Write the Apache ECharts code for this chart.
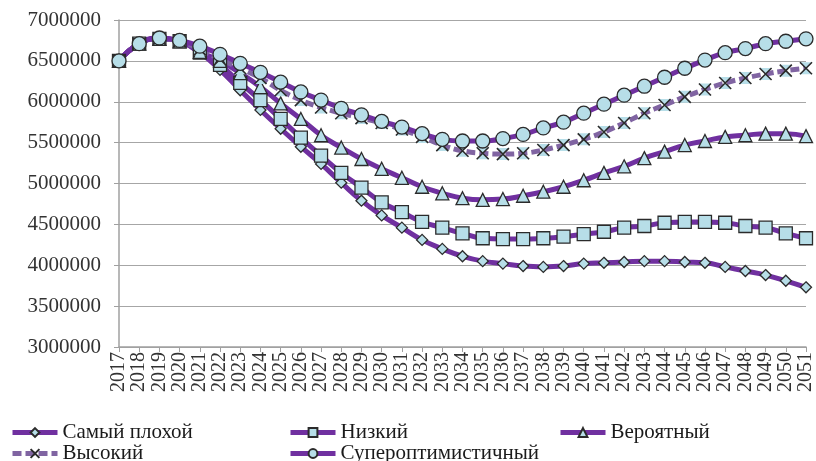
<!DOCTYPE html>
<html>
<head>
<meta charset="utf-8">
<script src="https://cdn.jsdelivr.net/npm/echarts@6/dist/echarts.min.js"></script>
<style>
  html, body { margin: 0; padding: 0; background: #fff; }
  #chart { width: 816px; height: 461px; }
</style>
</head>
<body>
<div id="chart"></div>
<script>
const years = [];
for (let y = 2017; y <= 2051; y++) years.push(String(y));

const worst = [6500000, 6710000, 6770000, 6740000, 6600000, 6390000, 6140000, 5900000, 5670000, 5450000,
  5240000, 5010000, 4790000, 4610000, 4460000, 4310000, 4200000, 4110000, 4050000, 4020000,
  3990000, 3980000, 3990000, 4020000, 4030000, 4040000, 4050000, 4050000, 4040000, 4030000,
  3980000, 3930000, 3880000, 3810000, 3730000];
const low = [6500000, 6710000, 6770000, 6740000, 6600000, 6450000, 6230000, 6020000, 5790000, 5560000,
  5340000, 5130000, 4950000, 4770000, 4650000, 4530000, 4460000, 4390000, 4330000, 4320000,
  4320000, 4330000, 4350000, 4380000, 4410000, 4460000, 4480000, 4520000, 4530000, 4530000,
  4520000, 4480000, 4460000, 4390000, 4330000];
const probable = [6500000, 6710000, 6770000, 6740000, 6610000, 6500000, 6350000, 6180000, 5980000, 5790000,
  5590000, 5440000, 5300000, 5180000, 5070000, 4960000, 4880000, 4820000, 4800000, 4810000,
  4850000, 4900000, 4960000, 5040000, 5130000, 5210000, 5310000, 5390000, 5470000, 5520000,
  5570000, 5590000, 5610000, 5610000, 5580000];
const high = [6500000, 6710000, 6770000, 6740000, 6640000, 6520000, 6410000, 6290000, 6140000, 6020000,
  5930000, 5860000, 5800000, 5740000, 5660000, 5570000, 5470000, 5400000, 5370000, 5360000,
  5370000, 5410000, 5470000, 5540000, 5630000, 5740000, 5860000, 5960000, 6060000, 6150000,
  6230000, 6290000, 6340000, 6380000, 6410000];
const superOpt = [6500000, 6710000, 6780000, 6750000, 6680000, 6580000, 6470000, 6360000, 6240000, 6120000,
  6020000, 5920000, 5840000, 5760000, 5690000, 5610000, 5540000, 5520000, 5520000, 5550000,
  5600000, 5680000, 5750000, 5860000, 5970000, 6080000, 6190000, 6300000, 6410000, 6510000,
  6600000, 6650000, 6710000, 6740000, 6770000];

const names = ['Самый плохой', 'Низкий', 'Вероятный', 'Высокий', 'Супероптимистичный'];

const PURPLE = '#7030A0';
const LIGHT_PURPLE = '#8064A2';
const MARK_FILL = '#B7DEE8';
const MARK_EDGE = '#2b2b2b';
const FONT = 'Liberation Serif';

const crossPath = 'path://M0,0L12,12M12,0L0,12';
const hourglassPath = 'path://M0,0L12,0L6,6L12,12L0,12L6,6Z';

function lineSeries(name, data, symbol, size, color, dashed) {
  return {
    name,
    type: 'line',
    data,
    smooth: true,
    symbol,
    symbolSize: size,
    lineStyle: { color, width: 5, type: dashed ? [9, 4] : 'solid' },
    itemStyle: { color: MARK_FILL, borderColor: MARK_EDGE, borderWidth: 1.3 },
    emphasis: { disabled: true },
  };
}

function legendAt(name, left, top) {
  return {
    data: [name],
    left,
    top,
    itemWidth: 45,
    itemHeight: 11,
    lineStyle: { width: 5 },
    textStyle: { fontFamily: FONT, fontSize: 21, color: '#1a1a1a' },
  };
}

const chart = echarts.init(document.getElementById('chart'), null, { renderer: 'canvas' });
chart.setOption({
  animation: false,
  backgroundColor: '#fff',
  grid: { left: 119, right: 10, top: 20, bottom: 114 },
  legend: [
    legendAt(names[0], 5, 417),
    legendAt(names[1], 283, 417),
    legendAt(names[2], 553, 417),
    legendAt(names[3], 5, 438),
    legendAt(names[4], 283, 438),
  ],
  xAxis: {
    type: 'category',
    data: years,
    boundaryGap: false,
    axisLine: { lineStyle: { color: '#A0A0A0', width: 1.5 } },
    axisTick: { show: true, length: 5, interval: 0, lineStyle: { color: '#A0A0A0' } },
    axisLabel: { rotate: 90, interval: 0, margin: 5, fontFamily: FONT, fontSize: 20, color: '#333' },
    splitLine: { show: false },
  },
  yAxis: {
    type: 'value',
    min: 3000000,
    max: 7000000,
    interval: 500000,
    axisLine: { show: true, lineStyle: { color: '#A0A0A0', width: 1.5 } },
    axisTick: { show: true, length: 5, lineStyle: { color: '#A0A0A0' } },
    axisLabel: { margin: 18, fontFamily: FONT, fontSize: 21, color: '#333', formatter: (v) => String(v) },
    splitLine: { lineStyle: { color: '#A6A6A6', width: 1.2 } },
  },
  series: [
    lineSeries(names[0], worst, 'diamond', 11, PURPLE, false),
    lineSeries(names[1], low, 'rect', 13, PURPLE, false),
    lineSeries(names[2], probable, 'triangle', 13, PURPLE, false),
    {
      name: 'high-fill',
      type: 'line',
      data: high,
      smooth: true,
      symbol: hourglassPath,
      symbolSize: 12,
      lineStyle: { width: 0, opacity: 0 },
      itemStyle: { color: MARK_FILL, borderWidth: 0 },
      emphasis: { disabled: true },
    },
    Object.assign(lineSeries(names[3], high, crossPath, 12, LIGHT_PURPLE, true), {
      itemStyle: { color: MARK_FILL, borderColor: MARK_EDGE, borderWidth: 1.6 },
    }),
    lineSeries(names[4], superOpt, 'circle', 14, PURPLE, false),
  ],
});
</script>
</body>
</html>
